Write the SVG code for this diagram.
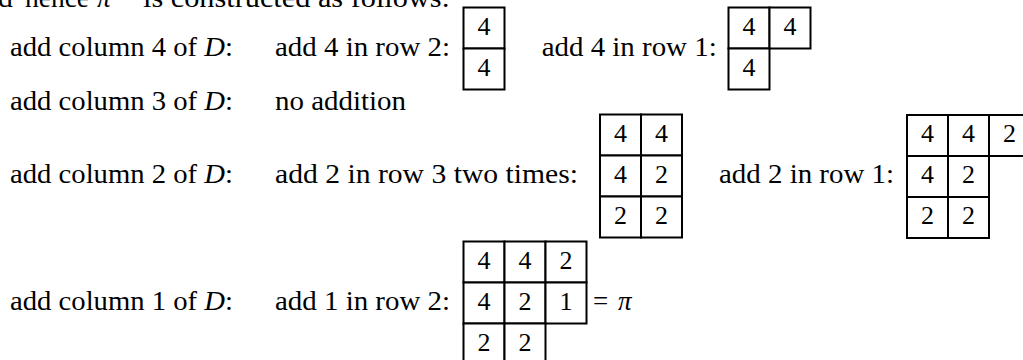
<svg xmlns="http://www.w3.org/2000/svg" width="1023" height="360" viewBox="0 0 1023 360">
<style>
.t{font-family:"Liberation Serif","Times New Roman",serif;font-size:27px;fill:#000}
.i{font-style:italic}
.c{fill:#fff;stroke:#000;stroke-width:2}
.d{text-anchor:middle;font-size:26px}
</style>
<rect x="0" y="0" width="1023" height="360" fill="#fff"/>
<g id="intro">
<text class="t" x="-30" y="7" textLength="43" lengthAdjust="spacingAndGlyphs">and</text>
<text class="t" x="25" y="7" textLength="64" lengthAdjust="spacingAndGlyphs">hence</text>
<text class="t i" x="97" y="7">π</text>
<text class="t" x="143" y="7" textLength="307" lengthAdjust="spacingAndGlyphs">is constructed as follows:</text>
</g>
<g id="labels">
<text class="t" x="10" y="56" textLength="223" lengthAdjust="spacingAndGlyphs">add column 4 of <tspan class="i">D</tspan>:</text>
<text class="t" x="275" y="56" textLength="175" lengthAdjust="spacingAndGlyphs">add 4 in row 2:</text>
<text class="t" x="541.7" y="56" textLength="175" lengthAdjust="spacingAndGlyphs">add 4 in row 1:</text>
<text class="t" x="10" y="110" textLength="223" lengthAdjust="spacingAndGlyphs">add column 3 of <tspan class="i">D</tspan>:</text>
<text class="t" x="275" y="110" textLength="131" lengthAdjust="spacingAndGlyphs">no addition</text>
<text class="t" x="10" y="182.5" textLength="223" lengthAdjust="spacingAndGlyphs">add column 2 of <tspan class="i">D</tspan>:</text>
<text class="t" x="275" y="182.5" textLength="303" lengthAdjust="spacingAndGlyphs">add 2 in row 3 two times:</text>
<text class="t" x="719" y="182.5" textLength="175" lengthAdjust="spacingAndGlyphs">add 2 in row 1:</text>
<text class="t" x="10" y="310" textLength="223" lengthAdjust="spacingAndGlyphs">add column 1 of <tspan class="i">D</tspan>:</text>
<text class="t" x="275" y="310" textLength="175" lengthAdjust="spacingAndGlyphs">add 1 in row 2:</text>
<text class="t" x="593" y="310">=</text>
<text class="t i" x="618" y="310">π</text>
</g>
<g id="tableau1">
<rect class="c" x="463.5" y="7.5" width="41" height="41"/>
<rect class="c" x="463.5" y="48.5" width="41" height="41"/>
<text class="t d" x="484" y="34.5">4</text>
<text class="t d" x="484" y="75.5">4</text>
</g>
<g id="tableau2">
<rect class="c" x="728.5" y="7.5" width="41" height="41"/>
<rect class="c" x="769.5" y="7.5" width="41" height="41"/>
<rect class="c" x="728.5" y="48.5" width="41" height="41"/>
<text class="t d" x="749" y="34.5">4</text>
<text class="t d" x="790" y="34.5">4</text>
<text class="t d" x="749" y="75.5">4</text>
</g>
<g id="tableau3">
<rect class="c" x="600" y="114.5" width="41" height="41"/>
<rect class="c" x="641" y="114.5" width="41" height="41"/>
<rect class="c" x="600" y="155.5" width="41" height="41"/>
<rect class="c" x="641" y="155.5" width="41" height="41"/>
<rect class="c" x="600" y="196.5" width="41" height="41"/>
<rect class="c" x="641" y="196.5" width="41" height="41"/>
<text class="t d" x="620.5" y="141.5">4</text>
<text class="t d" x="661.5" y="141.5">4</text>
<text class="t d" x="620.5" y="182.5">4</text>
<text class="t d" x="661.5" y="182.5">2</text>
<text class="t d" x="620.5" y="223.5">2</text>
<text class="t d" x="661.5" y="223.5">2</text>
</g>
<g id="tableau4">
<rect class="c" x="907" y="115" width="41" height="41"/>
<rect class="c" x="948" y="115" width="41" height="41"/>
<rect class="c" x="989" y="115" width="41" height="41"/>
<rect class="c" x="907" y="156" width="41" height="41"/>
<rect class="c" x="948" y="156" width="41" height="41"/>
<rect class="c" x="907" y="197" width="41" height="41"/>
<rect class="c" x="948" y="197" width="41" height="41"/>
<text class="t d" x="927.5" y="142">4</text>
<text class="t d" x="968.5" y="142">4</text>
<text class="t d" x="1009.5" y="142">2</text>
<text class="t d" x="927.5" y="183">4</text>
<text class="t d" x="968.5" y="183">2</text>
<text class="t d" x="927.5" y="224">2</text>
<text class="t d" x="968.5" y="224">2</text>
</g>
<g id="tableau5">
<rect class="c" x="463.5" y="241.5" width="41" height="41"/>
<rect class="c" x="504.5" y="241.5" width="41" height="41"/>
<rect class="c" x="545.5" y="241.5" width="41" height="41"/>
<rect class="c" x="463.5" y="282.5" width="41" height="41"/>
<rect class="c" x="504.5" y="282.5" width="41" height="41"/>
<rect class="c" x="545.5" y="282.5" width="41" height="41"/>
<rect class="c" x="463.5" y="323.5" width="41" height="41"/>
<rect class="c" x="504.5" y="323.5" width="41" height="41"/>
<text class="t d" x="484" y="268.5">4</text>
<text class="t d" x="525" y="268.5">4</text>
<text class="t d" x="566" y="268.5">2</text>
<text class="t d" x="484" y="309.5">4</text>
<text class="t d" x="525" y="309.5">2</text>
<text class="t d" x="566" y="309.5">1</text>
<text class="t d" x="484" y="350.5">2</text>
<text class="t d" x="525" y="350.5">2</text>
</g>
</svg>
